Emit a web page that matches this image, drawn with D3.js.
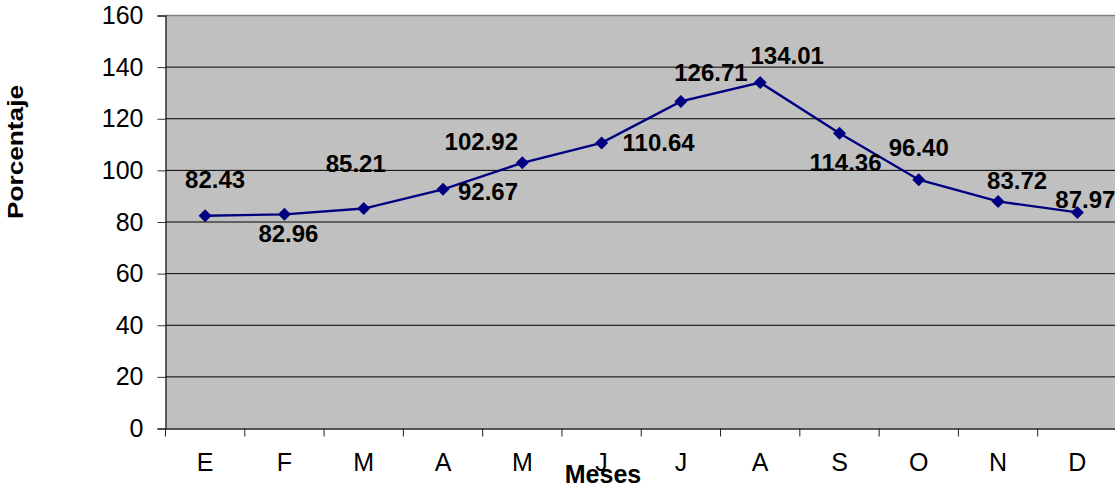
<!DOCTYPE html>
<html><head><meta charset="utf-8">
<script src="https://cdn.jsdelivr.net/npm/d3@7"></script>
<style>body{margin:0;background:#fff}svg{display:block}text{font-family:"Liberation Sans",Arial,sans-serif}</style>
</head><body><svg id="c" width="1115" height="485"></svg>
<script>
const months = ["E","F","M","A","M","J","J","A","S","O","N","D"];
const values = [82.43, 82.96, 85.21, 92.67, 102.92, 110.64, 126.71, 134.01, 114.36, 96.40, 87.97, 83.72];
const labels = ["82.43","82.96","85.21","92.67","102.92","110.64","126.71","134.01","114.36","96.40","83.72","87.97"];
const yTicks = [0,20,40,60,80,100,120,140,160];
// label offsets (dx, dy) from point, styling only
const labelOffsets = [[10,-28],[4,28],[-8,-37],[45,11],[-41,-13],[57,8],[30,-20],[27,-19],[6,38],[0,-24],[19,-12],[8,-4]];

const svg = d3.select("#c");
const L = 165.5, R = 1117, T = 15.5, B = 428.5;
const x = d3.scaleBand().domain(d3.range(12)).range([L, R]);
const y = d3.scaleLinear().domain([0,160]).range([B, T]);

svg.append("rect").attr("x",L).attr("y",T).attr("width",R-L).attr("height",B-T).attr("fill","#c0c0c0");
svg.append("line").attr("x1",L).attr("x2",R).attr("y1",T).attr("y2",T).attr("stroke","#808080").attr("stroke-width",1.5);

const yAxis = svg.append("g").attr("transform",`translate(${L},0)`)
  .call(d3.axisLeft(y).tickValues(yTicks).tickSize(8).tickPadding(14).tickFormat(d3.format("d")));
yAxis.select(".domain").attr("stroke","#333").attr("stroke-width",1.5);
yAxis.selectAll(".tick line").attr("stroke","#333");
yAxis.selectAll(".tick text").attr("font-size",25).attr("fill","#000").attr("font-family","Liberation Sans, Arial, sans-serif");

svg.append("g").selectAll("line").data(yTicks.filter(d=>d>0 && d<160)).join("line")
  .attr("x1",L).attr("x2",R).attr("y1",d=>y(d)).attr("y2",d=>y(d)).attr("stroke","#000").attr("stroke-width",1);

const xAxis = svg.append("g").attr("transform",`translate(0,${B})`)
  .call(d3.axisBottom(x).tickSize(0).tickPadding(0).tickFormat(i=>months[i]));
xAxis.select(".domain").attr("stroke","#222").attr("stroke-width",1.5);
xAxis.selectAll(".tick text").attr("font-size",25).attr("fill","#000").attr("y",42).attr("dy",0)
  .attr("font-family","Liberation Sans, Arial, sans-serif");
svg.append("g").selectAll("line").data(d3.range(13)).join("line")
  .attr("x1",i=>L + i*x.step()).attr("x2",i=>L + i*x.step()).attr("y1",B).attr("y2",B+8).attr("stroke","#222");

const cx = i => x(i) + x.bandwidth()/2;
svg.append("path").datum(values).attr("fill","none").attr("stroke","#000080").attr("stroke-width",2.4)
  .attr("d", d3.line().x((d,i)=>cx(i)).y(d=>y(d)));
svg.append("g").selectAll("rect").data(values).join("rect")
  .attr("x",-4.6).attr("y",-4.6).attr("width",9.2).attr("height",9.2)
  .attr("transform",(d,i)=>`translate(${cx(i)},${y(d)}) rotate(45)`).attr("fill","#000080");

svg.append("g").selectAll("text").data(values).join("text")
  .attr("x",(d,i)=>cx(i)+labelOffsets[i][0]).attr("y",(d,i)=>y(d)+labelOffsets[i][1])
  .attr("text-anchor","middle").attr("font-size",24).attr("font-weight","bold").attr("fill","#000")
  .text((d,i)=>labels[i]);

svg.append("text").attr("transform","translate(23,152) rotate(-90)").attr("text-anchor","middle")
  .attr("font-size",22).attr("font-weight","bold").attr("textLength",134).attr("lengthAdjust","spacingAndGlyphs").text("Porcentaje");
svg.append("text").attr("x",603).attr("y",483).attr("text-anchor","middle")
  .attr("font-size",25).attr("font-weight","bold").text("Meses");
</script></body></html>
